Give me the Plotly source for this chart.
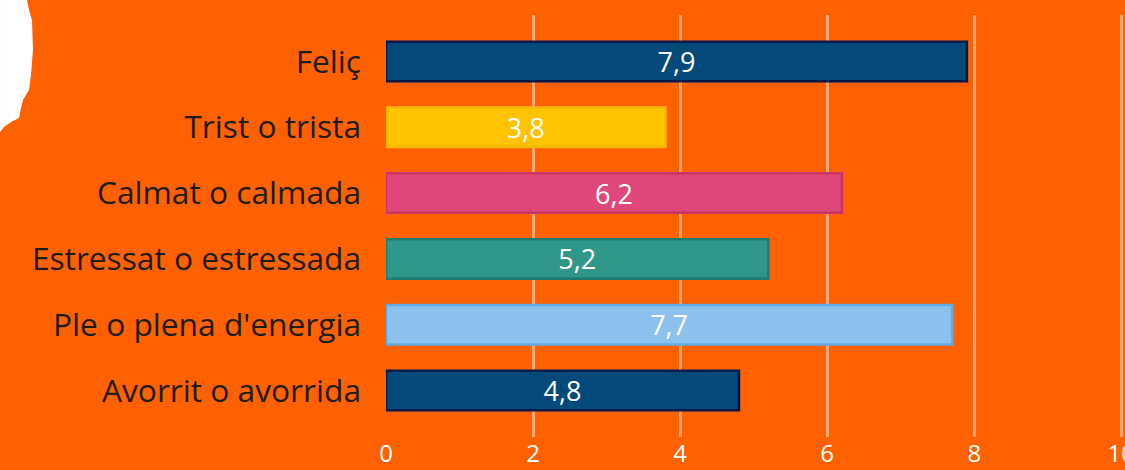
import plotly.graph_objects as go

categories = ["Feliç", "Trist o trista", "Calmat o calmada",
              "Estressat o estressada", "Ple o plena d'energia", "Avorrit o avorrida"]
values = [7.9, 3.8, 6.2, 5.2, 7.7, 4.8]
bar_colors = ["#03497a", "#ffc300", "#e0487c", "#2f9787", "#8cc1ee", "#03497a"]
edge_colors = ["#001a4e", "#f5b800", "#c93466", "#1f7c6e", "#62aae6", "#001a4e"]
tick_vals = [0, 2, 4, 6, 8, 10]

W, H = 1125, 470
L, R, T, B = 386, 0, 15, 33

fig = go.Figure()
fig.add_trace(go.Bar(
    y=categories, x=values, orientation="h",
    marker=dict(color=bar_colors, line=dict(color=edge_colors, width=2.5)),
    width=0.6,
    texttemplate="%{x:.1f}", textposition="inside", insidetextanchor="middle",
    constraintext="none",
    textfont=dict(color="white", size=27, family="Open Sans"),
    hoverinfo="skip",
))

# white torn-paper blob in the top-left corner (pixel -> paper coords)
def px(x, y):
    return (x - L) / (W - L - R), 1 - (y - T) / (H - T - B)

blob_px = [(0, 0), (27, 0), (29, 10), (32, 20), (33, 50), (31, 75), (29, 90),
           (23, 100), (21, 108), (19, 118), (11, 122), (4, 127), (0, 132)]
pts = [px(x, y) for x, y in blob_px]
path = "M " + " L ".join(f"{a:.4f},{b:.4f}" for a, b in pts) + " Z"

fig.update_layout(
    width=W, height=H,
    margin=dict(l=L, r=R, t=T, b=B),
    paper_bgcolor="#ff6000", plot_bgcolor="#ff6000",
    separators=", ",
    showlegend=False,
    font=dict(family="Open Sans", color="#1c1c1c"),
    shapes=[dict(type="path", path=path, xref="paper", yref="paper",
                 fillcolor="white", line=dict(width=0), layer="above")],
    xaxis=dict(range=[0, 10.05], tickvals=tick_vals, showgrid=True,
               gridcolor="rgba(255,215,190,0.6)", gridwidth=3,
               zeroline=False, showline=False, automargin=False,
               tickfont=dict(color="white", size=24, family="Open Sans"),
               ticks="", ticklabelstandoff=0, ticklabeloverflow="allow",
               fixedrange=True),
    yaxis=dict(categoryorder="array", categoryarray=categories,
               autorange=False, range=[5.705, -0.705], automargin=False,
               showgrid=False, zeroline=False, showline=False,
               tickfont=dict(color="#1c1c1c", size=31.7, family="Open Sans"),
               ticks="", ticklabelstandoff=24, fixedrange=True),
)

fig.write_html("out.html", config={"displayModeBar": False},
               post_script="document.body.style.margin='0';document.body.style.overflow='hidden';")
